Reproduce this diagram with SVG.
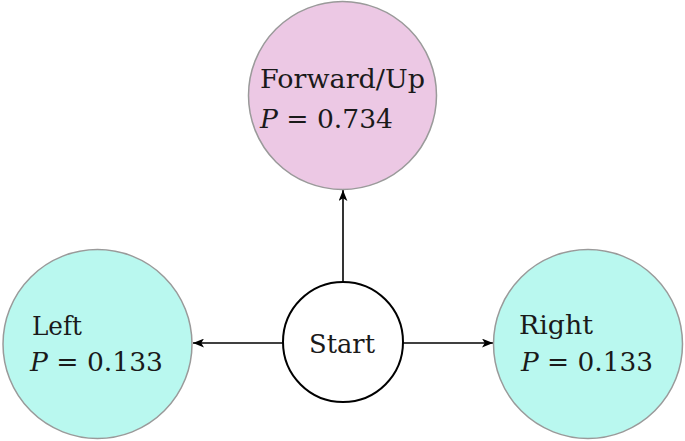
<svg xmlns="http://www.w3.org/2000/svg" width="685" height="441" viewBox="0 0 685 441">
<style>
.prob{stroke:#9a9a9a;stroke-width:1.5}
.up{fill:#ecc8e4}
.side{fill:#b9f8ef}
.start{fill:#ffffff;stroke:#000;stroke-width:2}
text{font-family:"DejaVu Serif","Liberation Serif",serif;font-size:26px;fill:#1a1a1a}
.it{font-style:italic}
.edge{stroke:#000;stroke-width:1.6;fill:none;marker-end:url(#ah)}
</style>
<defs>
<marker id="ah" viewBox="0 0 10 8" refX="10" refY="4" markerWidth="11" markerHeight="9" markerUnits="userSpaceOnUse" orient="auto">
<path d="M0,0 L10,4 L0,8 L2.5,4 Z" fill="#000"/>
</marker>
</defs>
<rect width="685" height="441" fill="#fff"/>
<g id="edges">
<line class="edge" x1="343" y1="281" x2="343" y2="190"/>
<line class="edge" x1="283" y1="343" x2="193" y2="343"/>
<line class="edge" x1="403" y1="343" x2="493" y2="343"/>
</g>
<g id="forward">
<circle class="prob up" cx="342.5" cy="95.5" r="94"/>
<text x="260" y="88" textLength="165" lengthAdjust="spacingAndGlyphs">Forward/Up</text>
<text x="260" y="128" textLength="133" lengthAdjust="spacingAndGlyphs"><tspan class="it">P</tspan> = 0.734</text>
</g>
<g id="left">
<circle class="prob side" cx="97.5" cy="344" r="94.5"/>
<text x="32" y="335" textLength="50" lengthAdjust="spacingAndGlyphs">Left</text>
<text x="30" y="371" textLength="133" lengthAdjust="spacingAndGlyphs"><tspan class="it">P</tspan> = 0.133</text>
</g>
<g id="right">
<circle class="prob side" cx="588" cy="344" r="94.5"/>
<text x="519" y="334" textLength="74" lengthAdjust="spacingAndGlyphs">Right</text>
<text x="521" y="371" textLength="132" lengthAdjust="spacingAndGlyphs"><tspan class="it">P</tspan> = 0.133</text>
</g>
<g id="start">
<circle class="start" cx="343" cy="342" r="60"/>
<text x="309" y="353" textLength="66" lengthAdjust="spacingAndGlyphs">Start</text>
</g>
</svg>
